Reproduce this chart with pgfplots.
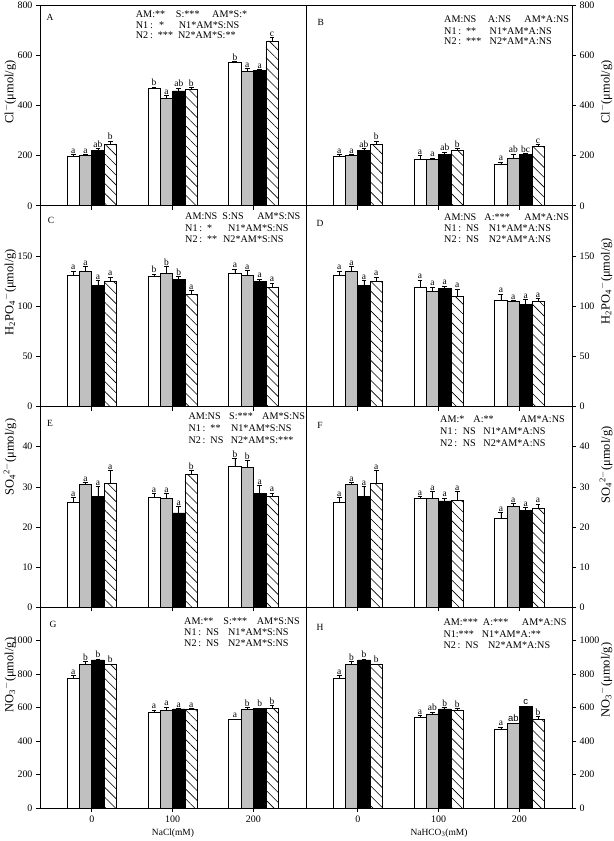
\documentclass[border=0pt]{standalone}
\usepackage{pgfplots}
\pgfplotsset{compat=1.18}
\usepackage{pgfplotstable}
\usepackage{fontspec}
\setmainfont{Liberation Serif}
\newfontfamily\sfarial{Liberation Sans}
\usetikzlibrary{patterns.meta}
\definecolor{bargray}{RGB}{192,192,192}
\newcommand\sfab{{\sfarial ab}}
\newcommand\sfc{{\sfarial c}}

\pgfplotstableread{
grp w we wl g ge gl k ke kl h he hl
0 197 7 a 202 2 a 222 5 ab 246 12 b
1 468 6 b 428 12 a 458 12 ab 463 8 b
2 571 3 b 536 12 a 538 5 a 657 14 c
}\tA
\pgfplotstableread{
grp w we wl g ge gl k ke kl h he hl
0 197 7 a 202 2 a 222 5 ab 246 12 b
1 185 15 a 185 5 a 205 9 ab 221 7 b
2 164 11 a 189 18 ab 205 3 bc 237 6 c
}\tB
\pgfplotstableread{
grp w we wl g ge gl k ke kl h he hl
0 130.5 4.5 a 134.5 5 a 120.5 5 a 124.5 4.5 a
1 129.5 2.5 b 132.5 7 b 127 2.5 b 111.5 4 a
2 132.5 4.5 a 131 4.5 a 124.5 2.5 a 119 4 a
}\tC
\pgfplotstableread{
grp w we wl g ge gl k ke kl h he hl
0 130.5 4.5 a 134.5 5 a 120.5 5 a 124.5 4.5 a
1 119 7 a 115 4 a 117.5 2.5 a 110 7 a
2 106 6 a 104.5 1 a 102 5 a 105 3 a
}\tD
\pgfplotstableread{
grp w we wl g ge gl k ke kl h he hl
0 26.1 1.2 a 30.6 0.4 a 27.6 2.5 a 30.9 3.1 a
1 27.4 0.9 a 27.1 1.2 a 23.5 1.6 a 33.1 0.9 b
2 35.1 2.0 b 34.8 1.8 b 28.4 2.0 a 27.6 0.9 a
}\tE
\pgfplotstableread{
grp w we wl g ge gl k ke kl h he hl
0 26.1 1.2 a 30.6 0.4 a 27.6 2.5 a 30.9 3.1 a
1 27.1 0.5 a 27.1 1.8 a 26.5 0.7 a 26.6 2.2 a
2 22.1 1.6 a 25.1 0.7 a 24.2 0.7 a 24.6 1.1 a
}\tF
\pgfplotstableread{
grp w we wl g ge gl k ke kl h he hl
0 775 16 a 860 14 b 885 6 b 858 4 b
1 572 15 a 582 22 a 592 4 a 592 3 a
2 528 4 a 588 14 b 595 4 b 595 18 b
}\tG
\pgfplotstableread{
grp w we wl g ge gl k ke kl h he hl
0 775 16 a 860 14 b 885 6 b 858 4 b
1 540 14 a 562 12 ab 592 8 b 585 10 b
2 473 12 a 505 4 \sfab{} 605 5 \sfc{} 528 18 b
}\tH

\pgfplotsset{
  panel/.style={scale only axis, width=266bp, height=200.75bp,
    xmin=-0.64, xmax=2.65, ymin=0,
    xtick={0,1,2}, xticklabels={}, tick align=outside, major tick length=4bp,
    xtick pos=lower,
    axis line style={line width=0.6bp},
    every tick/.style={black, line width=0.6bp},
    tick label style={font=\fontsize{10}{12}\selectfont},
    /pgf/number format/assume math mode=true,
    /pgf/number format/1000 sep={},
    ylabel style={font=\fontsize{12.5}{14}\selectfont, anchor=center},
    clip=false},
  leftp/.style={panel, ytick pos=left},
  rightp/.style={panel, ytick pos=right, yticklabel pos=right},
  ylabL/.style={ylabel style={at={(axis description cs:-0.113,#1)}}},
  ylabR/.style={ylabel style={at={(axis description cs:1.128,#1)}}},
  bottomp/.style={xticklabels={0,100,200},
    xlabel style={at={(axis description cs:0.5,-0.125)}, anchor=center,
      font=\fontsize{9.5}{11}\selectfont}},
  errb/.style={error bars/.cd, y dir=plus, y explicit,
    error bar style={line width=0.6bp, black},
    error mark options={rotate=90, mark size=2.4bp, line width=0.6bp, black}},
  bw/.style={ybar, bar width=0.153, bar shift=0pt, fill=white, draw=black, line width=0.6bp, errb},
  bg/.style={ybar, bar width=0.153, bar shift=0pt, fill=bargray, draw=black, line width=0.6bp, errb},
  bk/.style={ybar, bar width=0.153, bar shift=0pt, fill=black, draw=black, line width=0.6bp, errb},
  bh/.style={ybar, bar width=0.153, bar shift=0pt, draw=black, line width=0.6bp,
    pattern={Lines[angle=-45, distance=7bp, line width=0.6bp]}, pattern color=black, errb},
  lab/.style={draw=none, nodes near coords, point meta=explicit symbolic,
    every node near coord/.append style={anchor=south, font=\fontsize{9.5}{10}\selectfont,
      inner sep=0.8bp, text=black}},
}
\tikzset{
  stat/.style={anchor=base west, font=\fontsize{10.2}{12}\selectfont, inner sep=0pt},
  plet/.style={anchor=center, font=\fontsize{9.5}{10}\selectfont, inner sep=0pt},
}

\newcommand\bars[1]{%
  \addplot[bw] table[x expr=\thisrow{grp}-0.2295, y=w, y error=we] {#1};
  \addplot[bg] table[x expr=\thisrow{grp}-0.0765, y=g, y error=ge] {#1};
  \addplot[bk] table[x expr=\thisrow{grp}+0.0765, y=k, y error=ke] {#1};
  \addplot[bh] table[x expr=\thisrow{grp}+0.2295, y=h, y error=he] {#1};
  \addplot[lab] table[x expr=\thisrow{grp}-0.2295, y expr=\thisrow{w}+\thisrow{we}, meta=wl] {#1};
  \addplot[lab] table[x expr=\thisrow{grp}-0.0765, y expr=\thisrow{g}+\thisrow{ge}, meta=gl] {#1};
  \addplot[lab] table[x expr=\thisrow{grp}+0.0765, y expr=\thisrow{k}+\thisrow{ke}, meta=kl] {#1};
  \addplot[lab] table[x expr=\thisrow{grp}+0.2295, y expr=\thisrow{h}+\thisrow{he}, meta=hl] {#1};
}
% box of at least #1 bp, or natural width + 5bp
\newcommand\pb[2]{\setbox0=\hbox{#2}%
  \ifdim\wd0>\dimexpr #1bp-5bp\relax\hbox to \dimexpr\wd0+5bp\relax{#2\hfil}%
  \else\hbox to #1bp{#2\hfil}\fi}
% stat line: xshift, yshift(from top), part1, width1, part2, width2, part3
\newcommand\sline[7]{%
  \node[stat, xshift=#1bp, yshift=-#2bp] at (rel axis cs:0,1)
    {\pb{#4}{#3}\pb{#6}{#5}#7};}
\newcommand\slinetwo[5]{%
  \node[stat, xshift=#1bp, yshift=-#2bp] at (rel axis cs:0,1)
    {\pb{#4}{#3}#5};}

\begin{document}
\begin{tikzpicture}
\useasboundingbox (0,0) rectangle (614bp,-841bp);

% A
\begin{axis}[leftp, ylabL=0.567, at={(40bp,-5bp)}, anchor=north west, ymax=800, ytick={0,200,400,600,800},
  ylabel={Cl$^{-}$(μmol/g)}]
\bars{\tA}
\node[plet, xshift=10bp, yshift=-12.3bp] at (rel axis cs:0,1) {A};
\sline{95.7}{12.5}{AM:**}{40}{S:***}{36.3}{AM*S:*}
\sline{95.7}{23.5}{N1\,:}{23.3}{*}{19.7}{N1*AM*S:NS}
\sline{95.7}{33.5}{N2\,:}{22}{***}{18}{N2*AM*S:**}
\end{axis}

% B
\begin{axis}[rightp, ylabR=0.567, at={(306bp,-5bp)}, anchor=north west, ymax=800, ytick={0,200,400,600,800},
  ylabel={Cl$^{-}$(μmol/g)}]
\bars{\tB}
\node[plet, xshift=14.7bp, yshift=-17bp] at (rel axis cs:0,1) {B};
\sline{138}{17.5}{AM:NS}{43.7}{A:NS}{36.6}{AM*A:NS}
\sline{138}{29.5}{N1\,:}{21.7}{**}{23.6}{N1*AM*A:NS}
\sline{138}{39.5}{N2\,:}{21.7}{***}{23.6}{N2*AM*A:NS}
\end{axis}

% C
\begin{axis}[leftp, ylabL=0.570, at={(40bp,-205.75bp)}, anchor=north west, ymax=200, ytick={0,50,100,150},
  ylabel={H\textsubscript{2}PO\textsubscript{4}$^{-}$(μmol/g)}]
\bars{\tC}
\node[plet, xshift=11bp, yshift=-14.25bp] at (rel axis cs:0,1) {C};
\sline{145}{13.75}{AM:NS}{37}{S:NS}{35}{AM*S:NS}
\sline{145}{25.75}{N1\,:}{21.7}{*}{21}{N1*AM*S:NS}
\sline{145}{37}{N2\,:}{19}{**}{16}{N2*AM*S:NS}
\end{axis}

% D
\begin{axis}[rightp, ylabR=0.625, at={(306bp,-205.75bp)}, anchor=north west, ymax=200, ytick={0,50,100,150},
  ylabel={H\textsubscript{2}PO\textsubscript{4}$^{-}$(μmol/g)}]
\bars{\tD}
\node[plet, xshift=14bp, yshift=-17.5bp] at (rel axis cs:0,1) {D};
\sline{138}{15}{AM:NS}{40.3}{A:***}{40}{AM*A:NS}
\sline{138}{25.5}{N1\,:}{18.3}{NS}{22.7}{N1*AM*A:NS}
\sline{138}{37}{N2\,:}{18.3}{NS}{22.7}{N2*AM*A:NS}
\end{axis}

% E
\begin{axis}[leftp, ylabL=0.748, at={(40bp,-406.5bp)}, anchor=north west, ymax=50, ytick={0,10,20,30,40},
  ylabel={SO\textsubscript{4}\textsuperscript{2$-$}(μmol/g)}]
\bars{\tE}
\node[plet, xshift=10bp, yshift=-16.5bp] at (rel axis cs:0,1) {E};
\sline{148.3}{13}{AM:NS}{40.7}{S:***}{33}{AM*S:NS}
\sline{148.3}{25}{N1\,:}{21.7}{**}{20.6}{N1*AM*S:NS}
\sline{148.3}{36.5}{N2\,:}{22}{NS}{20.3}{N2*AM*S:***}
\end{axis}

% F
\begin{axis}[rightp, ylabR=0.709, at={(306bp,-406.5bp)}, anchor=north west, ymax=50, ytick={0,10,20,30,40},
  ylabel={SO\textsubscript{4}\textsuperscript{2$-$}(μmol/g)}]
\bars{\tF}
\node[plet, xshift=14bp, yshift=-18.5bp] at (rel axis cs:0,1) {F};
\sline{134}{16.3}{AM:*}{33.3}{A:**}{46.7}{AM*A:NS}
\sline{134}{28}{N1\,:}{22.7}{NS}{20.6}{N1*AM*A:NS}
\sline{134}{39.7}{N2\,:}{22.7}{NS}{20.6}{N2*AM*A:NS}
\end{axis}

% G
\begin{axis}[leftp, ylabL=0.662, bottomp, at={(40bp,-607.25bp)}, anchor=north west, ymax=1200, ytick={0,200,400,600,800,1000},
  ylabel={NO\textsubscript{3}$^{-}$(μmol/g)}, xlabel={NaCl(mM)}]
\bars{\tG}
\node[plet, xshift=13bp, yshift=-16.75bp] at (rel axis cs:0,1) {G};
\sline{144}{17}{AM:**}{39.3}{S:***}{33.4}{AM*S:NS}
\sline{144}{28.5}{N1\,:}{21}{NS}{22}{N1*AM*S:NS}
\sline{144}{39.5}{N2\,:}{21}{NS}{22}{N2*AM*S:NS}
\end{axis}

% H
\begin{axis}[rightp, ylabR=0.638, bottomp, at={(306bp,-607.25bp)}, anchor=north west, ymax=1200, ytick={0,200,400,600,800,1000},
  ylabel={NO\textsubscript{3}$^{-}$(μmol/g)}, xlabel={NaHCO\textsubscript{3}(mM)}]
\bars{\tH}
\node[plet, xshift=14bp, yshift=-19.75bp] at (rel axis cs:0,1) {H};
\sline{137.3}{18}{AM:***}{36}{A:***}{39}{AM*A:NS}
\slinetwo{137.3}{30}{N1:***}{38.3}{N1*AM*A:**}
\sline{137.3}{41.3}{N2\,:}{19}{NS}{22.7}{N2*AM*A:NS}
\end{axis}
\end{tikzpicture}
\end{document}
